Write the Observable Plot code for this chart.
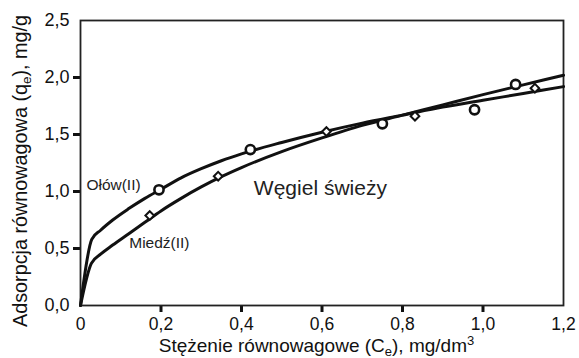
<!DOCTYPE html>
<html>
<head>
<meta charset="utf-8">
<script src="https://cdn.jsdelivr.net/npm/d3@7"></script>
<script src="https://cdn.jsdelivr.net/npm/@observablehq/plot@0.6"></script>
<style>
  html, body { margin: 0; padding: 0; background: #fff; }
  svg text { font-family: "Liberation Sans", Arial, sans-serif; }
</style>
</head>
<body>
<div id="chart"></div>
<script>
// measured points (circles = Ołów(II), diamonds = Miedź(II))
const olowX = [0.195, 0.422, 0.75, 0.979, 1.081];
const olowY = [1.015, 1.368, 1.594, 1.717, 1.939];
const miedzX = [0.172, 0.342, 0.611, 0.831, 1.129];
const miedzY = [0.789, 1.134, 1.526, 1.661, 1.906];

// fitted curves
const olowCurveX  = [0, 0.028, 0.05, 0.08, 0.12, 0.16, 0.2, 0.25, 0.3, 0.35, 0.4, 0.5, 0.6, 0.7, 0.8, 0.9, 1.0, 1.1, 1.2];
const olowCurveY  = [0, 0.58, 0.66, 0.75, 0.85, 0.94, 1.02, 1.12, 1.20, 1.27, 1.33, 1.43, 1.52, 1.60, 1.67, 1.74, 1.80, 1.86, 1.92];
const miedzCurveX = [0, 0.027, 0.05, 0.08, 0.12, 0.16, 0.2, 0.25, 0.3, 0.35, 0.4, 0.5, 0.6, 0.7, 0.8, 0.9, 1.0, 1.1, 1.2];
const miedzCurveY = [0, 0.37, 0.45, 0.53, 0.63, 0.73, 0.83, 0.94, 1.04, 1.13, 1.21, 1.35, 1.47, 1.58, 1.67, 1.76, 1.85, 1.935, 2.02];

// axis ticks
const xTicks = [0, 0.2, 0.4, 0.6, 0.8, 1.0, 1.2];
const xTickLabels = ["0", "0,2", "0,4", "0,6", "0,8", "1,0", "1,2"];
const yTicks = [0, 0.5, 1.0, 1.5, 2.0, 2.5];
const yTickLabels = ["0,0", "0,5", "1,0", "1,5", "2,0", "2,5"];
const xTickMarks = [0.2, 0.4, 0.6, 0.8, 1.0];
const yTickMarks = [0.5, 1.0, 1.5, 2.0];

// annotations
const annText = ["Ołów(II)", "Miedź(II)", "Węgiel świeży"];
const annX = [0.082, 0.196, 0.596];
const annY = [1.06, 0.545, 1.03];

const olowPts = olowX.map((x, i) => ({x, y: olowY[i]}));
const miedzPts = miedzX.map((x, i) => ({x, y: miedzY[i]}));
const olowLine = olowCurveX.map((x, i) => ({x, y: olowCurveY[i]}));
const miedzLine = miedzCurveX.map((x, i) => ({x, y: miedzCurveY[i]}));
const ann = annText.map((t, i) => ({t, x: annX[i], y: annY[i]}));
const xFmt = d => xTickLabels[xTicks.indexOf(d)];
const yFmt = d => yTickLabels[yTicks.indexOf(d)];

const svg = Plot.plot({
  width: 579,
  height: 358,
  marginLeft: 80,
  marginRight: 16,
  marginTop: 20,
  marginBottom: 53,
  style: {fontFamily: '"Liberation Sans", Arial, sans-serif', color: "#111", background: "#fff"},
  x: {domain: [0, 1.2]},
  y: {domain: [0, 2.5]},
  marks: [
    Plot.axisX(xTicks, {tickSize: 0, tickPadding: 12, tickFormat: xFmt, fontSize: 17.5, label: null}),
    Plot.axisX(xTickMarks, {tickSize: 7, tickFormat: () => "", strokeWidth: 3, label: null}),
    Plot.axisY(yTicks, {tickSize: 0, tickPadding: 11, tickFormat: yFmt, fontSize: 18, label: null}),
    Plot.axisY(yTickMarks, {tickSize: 7, tickFormat: () => "", strokeWidth: 3, label: null}),
    Plot.frame({stroke: "#222", strokeWidth: 1.8}),
    Plot.line(olowLine, {x: "x", y: "y", stroke: "#111", strokeWidth: 3, curve: "monotone-x"}),
    Plot.line(miedzLine, {x: "x", y: "y", stroke: "#111", strokeWidth: 3, curve: "monotone-x"}),
    Plot.dot(olowPts, {x: "x", y: "y", r: 4.6, stroke: "#111", strokeWidth: 2.6, fill: "#fff"}),
    Plot.dot(miedzPts, {x: "x", y: "y", r: 3.9, symbol: "diamond2", stroke: "#111", strokeWidth: 2, fill: "#fff"}),
    Plot.text(ann.slice(0, 2), {x: "x", y: "y", text: "t", fontSize: 15.5, fill: "#222"}),
    Plot.text(ann.slice(2), {x: "x", y: "y", text: "t", fontSize: 21, fill: "#222"})
  ]
});

const s = d3.select(svg);
// y axis label
const yl = s.append("text")
  .attr("transform", "translate(27,171) rotate(-90)")
  .attr("text-anchor", "middle")
  .attr("font-size", 19.8)
  .attr("fill", "#111");
yl.append("tspan").text("Adsorpcja równowagowa (q");
yl.append("tspan").attr("font-size", 13.5).attr("dy", 3.5).text("e");
yl.append("tspan").attr("dy", -3.5).text("), mg/g");

// x axis label
const xl = s.append("text")
  .attr("x", 316.5)
  .attr("y", 352)
  .attr("text-anchor", "middle")
  .attr("font-size", 19)
  .attr("fill", "#111");
xl.append("tspan").text("Stężenie równowagowe (C");
xl.append("tspan").attr("font-size", 13).attr("dy", 3.5).text("e");
xl.append("tspan").attr("dy", -3.5).text("), mg/dm");
xl.append("tspan").attr("font-size", 13).attr("dy", -7).text("3");

document.getElementById("chart").appendChild(svg);
</script>
</body>
</html>
